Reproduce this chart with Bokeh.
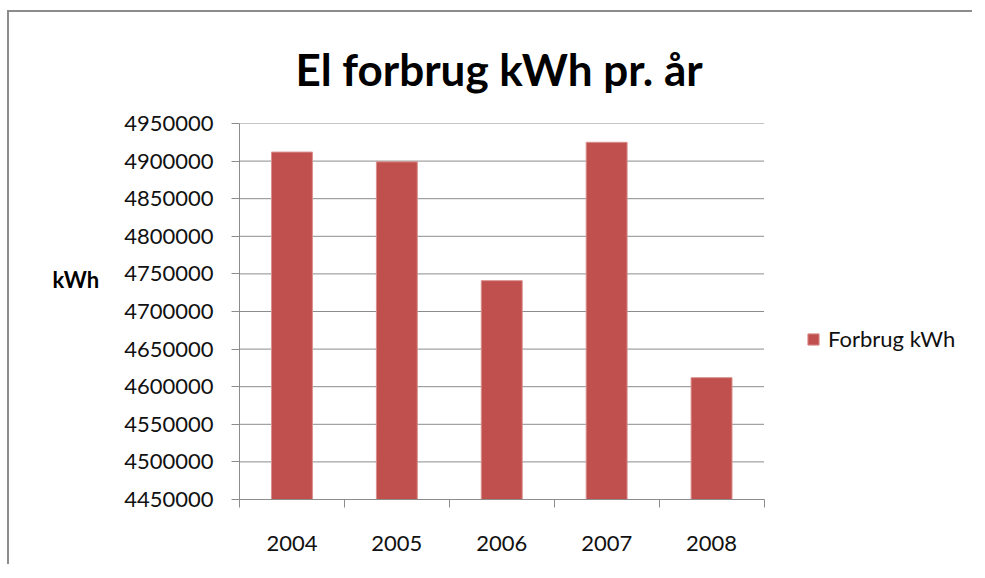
import numpy as np
from bokeh.plotting import figure
from bokeh.models import (Range1d, LinearAxis, FixedTicker, BasicTickFormatter, Title,
                          Legend, LegendItem, ColumnDataSource)
from bokeh.embed import file_html
from bokeh.resources import INLINE

# ---- data ----
years = ["2004", "2005", "2006", "2007", "2008"]
consumption = [4912000, 4899000, 4741000, 4925000, 4612000]
y_ticks = [4450000, 4500000, 4550000, 4600000, 4650000, 4700000,
           4750000, 4800000, 4850000, 4900000, 4950000]
title_text = "El forbrug kWh pr. år"
y_label_text = "kWh"
series_name = "Forbrug kWh"

FONT = "Lato"
GRAY = "#8c8c8c"
BAR = "#C0504D"

n = len(years)
centers = (np.arange(n) + 0.5).tolist()     # category slots on a 0..n axis
edges = list(range(n + 1))

W, H = 965, 554
LEFT = 230
FRAME_W = W - LEFT
PLOT_W = 524.5                              # width of the category area in px
x_end = n * FRAME_W / PLOT_W                # frame extends right to hold the legend

src = ColumnDataSource(dict(x=centers, year=years, value=consumption))
grid_src = ColumnDataSource(dict(y=y_ticks))

p = figure(
    width=W, height=H,
    x_range=Range1d(0, x_end),
    y_range=Range1d(y_ticks[0], y_ticks[-1]),
    x_axis_location=None, y_axis_location=None,
    output_backend="svg", toolbar_location=None,
    min_border_left=LEFT, min_border_right=0,
    min_border_top=110, min_border_bottom=67,
)
p.styles = {"border-top": "2px solid #8c8c8c", "border-left": "2px solid #8c8c8c",
            "border-right": "0px", "border-bottom": "0px",
            "margin-top": "10px", "margin-left": "7px", "overflow": "hidden"}
p.outline_line_color = None
p.background_fill_color = "white"
p.border_fill_color = "white"
p.xgrid.visible = False
p.ygrid.visible = False

# horizontal grid lines over the category area
p.segment(x0=0, x1=n, y0="y", y1="y", source=grid_src, line_color=GRAY, line_width=1)

r = p.vbar(x="x", top="value", bottom=y_ticks[0], width=0.39, source=src,
           fill_color=BAR, line_color="#d98f8d", line_width=1)

# y axis
yax = LinearAxis(ticker=FixedTicker(ticks=y_ticks),
                 formatter=BasicTickFormatter(use_scientific=False))
yax.axis_line_color = GRAY
yax.major_tick_line_color = GRAY
yax.major_tick_out = 8
yax.major_tick_in = 0
yax.minor_tick_line_color = None
yax.major_label_standoff = 18
yax.major_label_text_font = FONT
yax.major_label_text_font_size = "22px"
yax.major_label_text_color = "#111111"
yax.axis_label = y_label_text + "\n\n"       # blank lines lift the label as in the original
yax.axis_label_orientation = "horizontal"
yax.axis_label_standoff = 22
yax.axis_label_text_font = FONT
yax.axis_label_text_font_style = "bold"
yax.axis_label_text_font_size = "22px"
yax.axis_label_text_color = "#000000"
p.add_layout(yax, "left")

# x axis: tick marks between categories
tax = LinearAxis(ticker=FixedTicker(ticks=edges), bounds=(0, n))
tax.axis_line_color = GRAY
tax.major_tick_line_color = GRAY
tax.major_tick_out = 8
tax.major_tick_in = 0
tax.minor_tick_line_color = None
tax.major_label_text_font_size = "0px"
tax.major_label_text_color = None
tax.major_label_standoff = 0
p.add_layout(tax, "below")

# x axis: year labels at category centres
xax = LinearAxis(ticker=FixedTicker(ticks=centers),
                 major_label_overrides={c: y for c, y in zip(centers, years)})
xax.axis_line_color = None
xax.major_tick_line_color = None
xax.minor_tick_line_color = None
xax.major_label_standoff = 22
xax.major_label_text_font = FONT
xax.major_label_text_font_size = "22px"
xax.major_label_text_color = "#111111"
p.add_layout(xax, "below")

# title
p.add_layout(Title(text=title_text, align="left", offset=56, text_font=FONT,
                   text_font_style="bold", text_font_size="44px", text_color="#000000",
                   standoff=57), "above")

legend = Legend(items=[LegendItem(label=series_name, renderers=[r])], location=(567, 147))
legend.border_line_color = None
legend.background_fill_alpha = 0
legend.padding = 0
legend.margin = 0
legend.glyph_width = 14
legend.glyph_height = 14
legend.label_standoff = 8
legend.label_text_font = FONT
legend.label_text_font_size = "22px"
legend.label_text_color = "#111111"
p.add_layout(legend, "center")

open("out.html", "w").write(file_html(p, INLINE))
